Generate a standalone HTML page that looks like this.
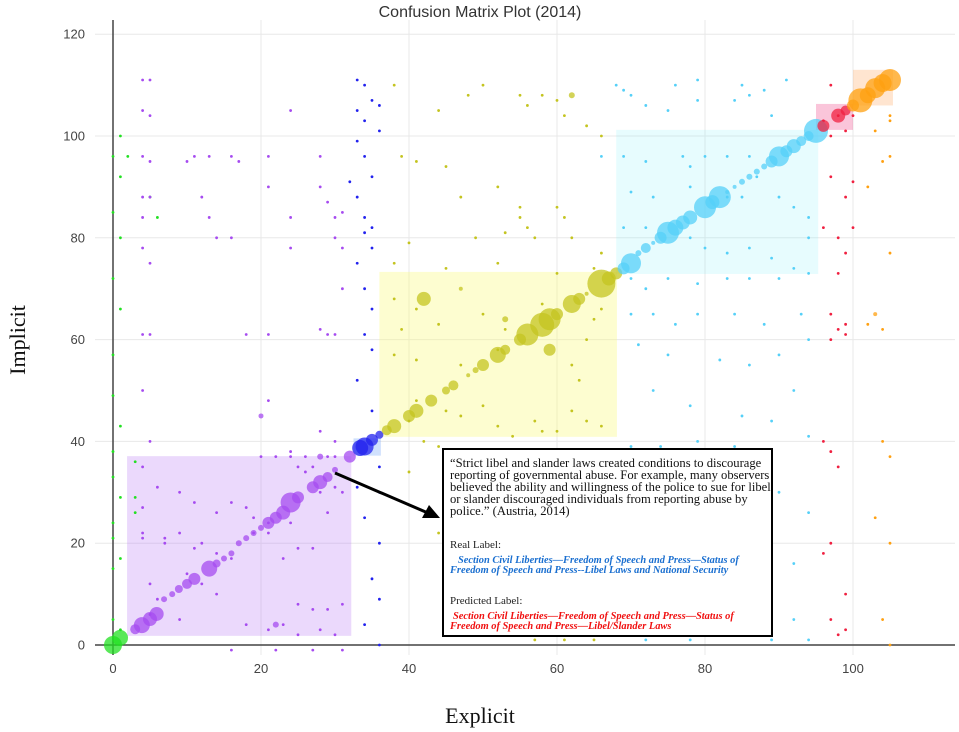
<!DOCTYPE html>
<html><head><meta charset="utf-8"><style>
body{margin:0;background:#fff;width:959px;height:732px;overflow:hidden;font-family:"Liberation Sans",sans-serif}
svg{display:block}
</style></head><body>
<svg id="chart" width="959" height="732"></svg>
<script>
const xTicks=[0,20,40,60,80,100];
const yTicks=[0,20,40,60,80,100,120];
// shaded class regions [x0,x1,y0,y1,color]
const regions=[
 [1.9,32.2,1.8,37.1,'rgba(190,130,245,0.30)','purple-region'],
 [32.5,36.2,37.2,40.6,'rgba(120,170,250,0.35)','blue-region'],
 [36,68.1,40.9,73.3,'rgba(250,250,120,0.35)','yellow-region'],
 [68,95.3,72.9,101.2,'rgba(120,240,250,0.18)','cyan-region'],
 [95,100,101.2,106.3,'rgba(240,90,150,0.35)','red-region'],
 [100,105.4,106,113,'rgba(255,170,100,0.30)','orange-region']
];
const colors={g:'#22e022',p:'#a64bf0',b:'#2222ee',y:'#c4c420',c:'#55d0f8',r:'#f02040',o:'#ffa010'};
// diagonal bubbles [x,y,r,group]
const bubbles=[[0,0,9,'g'],[0.95,1.4,8,'g'],
[3,3.1,5,'p'],[3.9,3.9,8,'p'],[5,5.1,7,'p'],[5.9,6.1,7,'p'],[6.9,9,3,'p'],[8,10,3,'p'],[8.9,11,4,'p'],[10,12,5,'p'],[11,13,6,'p'],[13,15,8,'p'],[14,16,4,'p'],[15,17,3,'p'],[16,18,3,'p'],[17,20,3,'p'],[18,21,3,'p'],[19,22,3,'p'],[20,23,3,'p'],[21,24,6,'p'],[22,25,6,'p'],[23,26,7,'p'],[24,28,10,'p'],[25,29,6,'p'],[27,31,6,'p'],[28,32,7,'p'],[29,33,5,'p'],[30,34.4,3,'p'],[28,37,3,'p'],[22,4,3,'p'],[20,45,2.5,'p'],[32,37,6,'p'],
[33.4,38.7,8,'b'],[34,39,9,'b'],[35,40.3,6,'b'],[36,41.3,4,'b'],
[37,42.2,5,'y'],[38,43,7,'y'],[40,45,6,'y'],[41,46,7,'y'],[43,48,6,'y'],[45,50,4,'y'],[46,51,5,'y'],[48,53,2,'y'],[49,54,3,'y'],[50,55,6,'y'],[52,57,8,'y'],[53,58,5,'y'],[55,60,6,'y'],[56,61,11,'y'],[58,62.9,12,'y'],[59,64,11,'y'],[60,65,6,'y'],[62,67,9,'y'],[63,68,6,'y'],[64,69,2,'y'],[66,71,14,'y'],[67,72,7,'y'],[42,68,7,'y'],[59,58,6,'y'],[53,64,3,'y'],[47,70,2,'y'],[68,73,6,'y'],[62,108,3,'y'],
[69,74,6,'c'],[70,75,10,'c'],[71,77,3,'c'],[72,78,5,'c'],[73,79,2,'c'],[74,80,6,'c'],[75,81,11,'c'],[76,82,8,'c'],[77,83,7,'c'],[78,84,7,'c'],[80,86,11,'c'],[81,87,7,'c'],[82,88,11,'c'],[83,89,2,'c'],[84,90,2,'c'],[85,91,3,'c'],[86,92,3,'c'],[87,93,3,'c'],[88,94,3,'c'],[89,95,6,'c'],[90,96,10,'c'],[91,97,6,'c'],[92,98,7,'c'],[93,99,5,'c'],[94,100,5,'c'],[95,101,12,'c'],
[96,102,6,'r'],[98,104,7,'r'],[99,105,5,'r'],
[100,106,6,'o'],[101,107,12,'o'],[102,108,8,'o'],[103,109.4,10,'o'],[104,110.4,9,'o'],[105,111,11,'o'],[103,65,2,'o']];
const greenDots=[[1,100],[0,96],[2,96],[1,92],[0,85],[1,80],[0,72],[1,66],[0,57],[0,49],[1,43],[0,38],[0,33],[1,29],[0,24],[0,21],[1,17],[0,15],[0,5],[1,3],[5,88],[6,84],[3,36],[3,29],[3,26]];
const purpleDots=[[4,111],[5,111],[4,105],[5,104],[4,96],[5,95],[4,88],[5,88],[4,84],[4,78],[5,75],[4,61],[5,61],[4,50],[5,40],[4,35],[4,27],[4,21],[5,12],[5,6],[10,95],[11,96],[12,88],[13,96],[13,84],[14,80],[16,96],[17,95],[16,80],[18,61],[21,61],[21,96],[21,90],[24,84],[24,78],[24,105],[28,96],[28,90],[29,87],[30,84],[31,85],[30,80],[31,78],[29,61],[30,61],[28,62],[31,70],[21,48],[28,42],[24,38],[30,40],[6,31],[9,30],[11,28],[14,26],[16,28],[18,27],[19,25],[21,24],[24,24],[7,21],[9,22],[11,19],[12,20],[14,18],[16,17],[19,22],[21,22],[23,17],[25,19],[27,19],[25,8],[27,7],[29,7],[31,8],[18,4],[21,3],[23,4],[25,2],[28,3],[30,2],[4,22],[7,20],[10,14],[12,12],[14,10],[9,5],[6,9],[16,-1],[22,-1],[27,-1],[31,-1],[25,35],[26,34],[27,35],[28,30],[30,31],[31,30],[29,26],[20,37],[22,37],[24,37],[26,37],[29,37],[30,37]];
const blueDots=[[33,111],[34,110],[35,107],[36,106],[33,105],[34,103],[36,101],[33,99],[34,96],[35,92],[32,91],[33,88],[34,84],[35,82],[34,81],[35,78],[33,75],[34,70],[35,66],[34,61],[35,58],[33,52],[35,46],[36,35],[33,31],[36,30],[34,25],[36,20],[35,13],[36,9],[34,4],[36,0]];
const yellowDots=[[38,110],[44,105],[48,108],[50,110],[55,108],[56,106],[58,108],[60,107],[61,104],[64,102],[66,100],[39,96],[41,95],[45,94],[47,88],[52,90],[55,86],[55,84],[56,82],[57,80],[53,81],[49,80],[60,86],[61,84],[62,80],[66,77],[40,79],[38,75],[45,74],[52,75],[60,73],[65,74],[38,68],[41,66],[39,62],[44,63],[50,65],[53,62],[58,67],[66,66],[65,64],[64,60],[38,57],[41,56],[47,55],[52,58],[62,55],[63,52],[41,48],[45,46],[47,45],[50,47],[57,44],[62,46],[64,44],[66,43],[40,44],[52,43],[58,42],[60,42],[54,41],[42,40],[44,39],[56,38],[40,34],[46,30],[50,26],[54,25],[58,24],[62,28],[65,30],[67,35],[44,22],[48,20],[52,16],[56,14],[60,12],[64,10],[66,6],[48,3],[52,2],[57,1],[61,1],[65,1],[67,3]];
const cyanDots=[[68,110],[69,109],[76,110],[79,111],[85,110],[88,109],[91,111],[70,108],[72,106],[75,105],[79,107],[84,107],[86,108],[89,104],[66,96],[69,96],[72,95],[77,96],[78,94],[80,96],[83,96],[86,96],[87,92],[90,88],[92,86],[94,84],[70,89],[73,88],[78,90],[83,88],[85,88],[69,82],[72,82],[78,80],[80,78],[83,77],[86,78],[89,76],[94,80],[70,72],[72,70],[75,72],[79,71],[83,72],[86,72],[90,72],[92,74],[94,73],[70,65],[73,65],[76,63],[79,65],[84,65],[88,63],[93,65],[94,60],[71,59],[75,57],[82,56],[86,55],[90,57],[92,50],[73,50],[78,47],[85,45],[89,44],[70,39],[74,39],[79,40],[84,39],[88,38],[94,41],[69,35],[76,32],[80,30],[85,28],[90,30],[94,26],[71,22],[77,20],[84,18],[88,14],[92,16],[70,12],[75,10],[80,8],[86,6],[92,5],[94,1],[72,1],[78,1],[89,1]];
const redDots=[[97,110],[98,104],[96,103],[97,100],[100,104],[99,101],[97,92],[100,91],[99,88],[96,82],[98,80],[100,82],[99,77],[98,73],[97,65],[99,63],[98,62],[99,61],[97,60],[96,40],[97,38],[98,35],[97,20],[96,18],[99,10],[97,5],[98,2],[99,3]];
const orangeDots=[[105,104],[105,103],[103,101],[104,95],[105,96],[102,90],[105,77],[102,63],[104,62],[104,40],[105,37],[103,25],[105,20],[104,5],[105,0]];

const NS='http://www.w3.org/2000/svg';
const svg=document.getElementById('chart');
const X=v=>113+v*7.4, Y=v=>645-v*5.09;
const L={left:95,right:955,top:20,bottom:655};
function mk(t,a,p){const e=document.createElementNS(NS,t);for(const k in a)e.setAttribute(k,a[k]);(p||svg).appendChild(e);return e;}

const grid=mk('g',{});


xTicks.forEach(t=>{if(t!==0){mk('line',{x1:X(t),x2:X(t),y1:L.top,y2:L.bottom,stroke:'#e8e8e8','stroke-width':1},grid);}
 const tx=mk('text',{x:X(t),y:673,'text-anchor':'middle','font-size':13,fill:'#444'});tx.textContent=t;
 
 });
yTicks.forEach(t=>{if(t!==0){mk('line',{x1:L.left,x2:L.right,y1:Y(t),y2:Y(t),stroke:'#e8e8e8','stroke-width':1},grid);}
 const ty=mk('text',{x:85,y:Y(t)+4.5,'text-anchor':'end','font-size':13,fill:'#444'});ty.textContent=t;
 
 });

regions.forEach(r=>{const e=mk('rect',{x:X(r[0]),y:Y(r[3]),width:X(r[1])-X(r[0]),height:Y(r[2])-Y(r[3]),fill:r[4]});
 
 });

mk('line',{x1:X(0),x2:X(0),y1:L.top,y2:L.bottom,stroke:'#444','stroke-width':1.5});
mk('line',{x1:L.left,x2:L.right,y1:Y(0),y2:Y(0),stroke:'#444','stroke-width':1.5});

function dots(arr,col,name){const g=mk('g',{fill:col});
 
 
 arr.forEach(d=>mk('circle',{cx:X(d[0]),cy:Y(d[1]),r:1.4},g));}
dots(greenDots,colors.g,'green-dots');dots(purpleDots,colors.p,'purple-dots');dots(blueDots,colors.b,'blue-dots');
dots(yellowDots,colors.y,'yellow-dots');dots(cyanDots,colors.c,'cyan-dots');dots(redDots,colors.r,'red-dots');dots(orangeDots,colors.o,'orange-dots');

const bg=mk('g',{});


bubbles.forEach(b=>{const c=mk('circle',{cx:X(b[0]),cy:Y(b[1]),r:b[2],fill:colors[b[3]],'fill-opacity':0.75},bg);
 
 });

const title=mk('text',{x:480,y:17,'text-anchor':'middle','font-size':16,fill:'#333'});title.textContent='Confusion Matrix Plot (2014)';


const xt=mk('text',{x:480,y:723,'text-anchor':'middle','font-size':22,'font-family':'Liberation Serif, serif',fill:'#111'});xt.textContent='Explicit';


const yt=mk('text',{x:0,y:0,'text-anchor':'middle','font-size':22,'font-family':'Liberation Serif, serif',fill:'#111',transform:'translate(25,340) rotate(-90)'});yt.textContent='Implicit';



// annotation
const ag=mk('g',{});


mk('line',{x1:335,y1:473,x2:428,y2:513,stroke:'#000','stroke-width':3},ag);
mk('polygon',{points:'440,518 422,518 429,505',fill:'#000'},ag);
mk('rect',{x:443,y:449,width:329,height:187,fill:'#fff',stroke:'#000','stroke-width':2},ag);
const lines=[['“Strict libel and slander laws created conditions to discourage',467,'#111',12.6,'',450],
['reporting of governmental abuse. For example, many observers',479,'#111',12.6,'',450],
['believed the ability and willingness of the police to sue for libel',491,'#111',12.6,'',450],
['or slander discouraged individuals from reporting abuse by',503,'#111',12.6,'',450],
['police.” (Austria, 2014)',515,'#111',12.6,'',450],
['Real Label:',548,'#222',11,'',450],
['Section Civil Liberties—Freedom of Speech and Press—Status of',563,'#1a6fd0',10.4,'b',458],
['Freedom of Speech and Press--Libel Laws and National Security',573,'#1a6fd0',10.4,'b',450],
['Predicted Label:',604,'#222',11,'',450],
['Section Civil Liberties—Freedom of Speech and Press—Status of',619,'#f01010',10.4,'b',453],
['Freedom of Speech and Press—Libel/Slander Laws',629,'#f01010',10.4,'b',450]];
lines.forEach(l=>{const t=mk('text',{x:l[5],y:l[1],'font-size':l[3],'font-family':'Liberation Serif, serif',fill:l[2]},ag);
 if(l[4]){t.setAttribute('font-style','italic');t.setAttribute('font-weight','bold');}
 t.textContent=l[0];
 
 });
</script>
</body></html>
